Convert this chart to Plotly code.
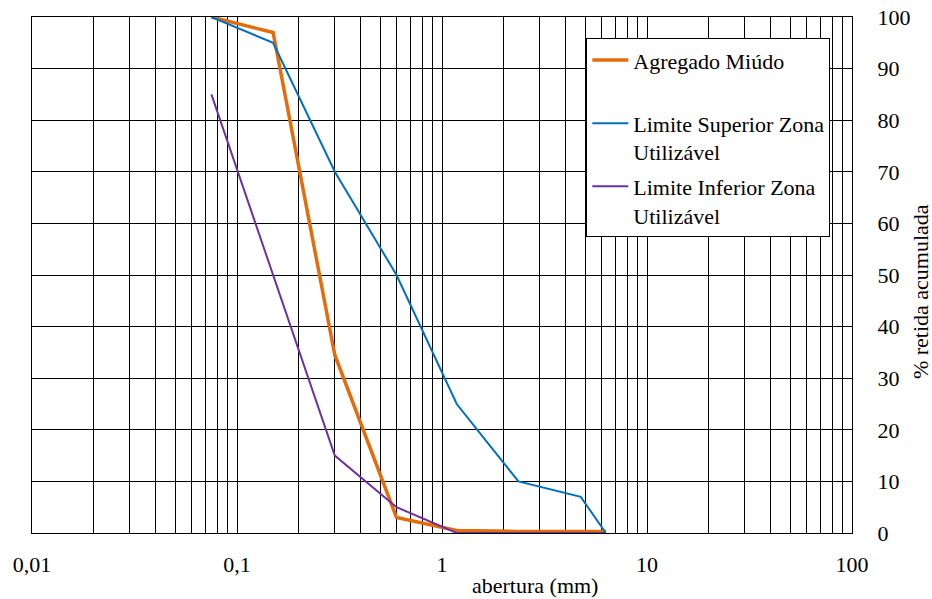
import plotly.graph_objects as go

aberturas = [0.075, 0.15, 0.3, 0.6, 1.18, 2.36, 4.75, 6.3]
agregado_miudo = [100, 97, 34.5, 3, 0.5, 0.3, 0.3, 0.3]
limite_superior = [100, 95, 70, 50, 25, 10, 7, 0]
limite_inferior = [85, 50, 15, 5, 0, 0, 0, 0]

x_major = [0.01, 0.1, 1, 10, 100]
x_major_text = ["0,01", "0,1", "1", "10", "100"]
y_ticks = [0, 10, 20, 30, 40, 50, 60, 70, 80, 90, 100]

x_title = "abertura (mm)"
y_title = "% retida acumulada"

font_family = "serif"

# all gridline positions (1..9 per decade), labels only on powers of ten
tickvals, ticktext = [], []
for d in x_major[:-1]:
    for k in range(1, 10):
        v = d * k
        tickvals.append(v)
        ticktext.append(x_major_text[x_major.index(d)] if k == 1 else "")
tickvals.append(x_major[-1])
ticktext.append(x_major_text[-1])

fig = go.Figure()
fig.add_trace(go.Scatter(x=aberturas, y=agregado_miudo, mode="lines",
                         name="Agregado Miúdo<br> ", legendgroup="a",
                         line=dict(color="#E46C0A", width=3.5)))
fig.add_trace(go.Scatter(x=aberturas, y=limite_superior, mode="lines",
                         name="Limite Superior Zona<br>Utilizável", legendgroup="b",
                         line=dict(color="#0070C0", width=2)))
fig.add_trace(go.Scatter(x=aberturas, y=limite_inferior, mode="lines",
                         name="Limite Inferior Zona<br>Utilizável", legendgroup="c",
                         line=dict(color="#7030A0", width=2)))

fig.update_layout(
    width=932, height=599,
    margin=dict(l=32, r=80, t=17, b=66),
    paper_bgcolor="white", plot_bgcolor="white",
    font=dict(family=font_family, size=22, color="black"),
    showlegend=True,
    legend=dict(x=0.676, y=0.959, xanchor="left", yanchor="top",
                bgcolor="white", bordercolor="black", borderwidth=1,
                font=dict(family=font_family, size=22), tracegroupgap=3, valign="top",
                itemwidth=36),
    xaxis=dict(type="log", range=[-2, 2], tickmode="array",
               tickvals=tickvals, ticktext=ticktext, automargin=False,
               showgrid=True, gridcolor="black", gridwidth=1,
               showline=True, linecolor="black", linewidth=1, mirror=True,
               ticks="", zeroline=False, ticklabelstandoff=12,
               tickfont=dict(family=font_family, size=22)),
    yaxis=dict(range=[0, 100], tickvals=y_ticks, side="right", automargin=False,
               showgrid=True, gridcolor="black", gridwidth=1,
               showline=True, linecolor="black", linewidth=1, mirror=True,
               ticks="", zeroline=False, ticklabelstandoff=20,
               tickfont=dict(family=font_family, size=22)),
    annotations=[
        dict(text=x_title, xref="paper", yref="paper", x=0.613, y=-0.1008,
             xanchor="center", yanchor="middle", showarrow=False,
             font=dict(family=font_family, size=22)),
        dict(text=y_title, xref="paper", yref="paper", x=1.083, y=0.467,
             xanchor="center", yanchor="middle", showarrow=False, textangle=-90,
             font=dict(family=font_family, size=22)),
    ],
)

fig.write_html("out.html", config={"displayModeBar": False},
               post_script="document.body.style.margin='0';document.body.style.overflow='hidden';")
